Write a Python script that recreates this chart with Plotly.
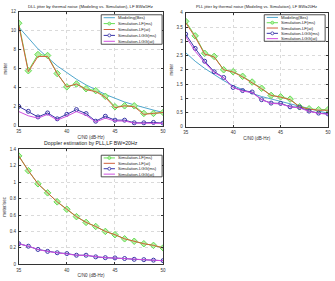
import plotly.graph_objects as go

W, H = 335, 281

cn0 = list(range(35, 51))

# Top-left: DLL jitter (meter)
dll_model = [10.4, 9.2, 8.1, 7.2, 6.3, 5.6, 4.9, 4.3, 3.8, 3.3, 2.9, 2.5, 2.2, 1.9, 1.65, 1.4]
dll_lf_ms = [10.8, 5.8, 7.5, 7.4, 5.5, 4.1, 4.4, 3.9, 3.7, 3.1, 2.0, 2.1, 2.1, 1.3, 1.3, 1.4]
dll_lf_st = [10.6, 5.7, 7.3, 7.3, 5.5, 4.1, 4.4, 3.8, 3.6, 3.0, 1.9, 2.1, 2.0, 1.2, 1.3, 1.4]
dll_lgg_ms = [2.04, 1.52, 0.93, 1.35, 0.73, 1.21, 1.7, 1.28, 0.48, 1.0, 0.59, 0.59, 0.31, 0.31, 0.35, 0.28]
dll_lgg_st = [1.5, 1.05, 0.8, 1.2, 0.6, 1.0, 1.5, 1.1, 0.4, 0.8, 0.5, 0.5, 0.28, 0.25, 0.3, 0.25]

# Top-right: PLL jitter (meter)
pll_model = [2.6, 2.3, 2.05, 1.82, 1.62, 1.44, 1.3, 1.17, 1.06, 0.97, 0.88, 0.8, 0.72, 0.64, 0.55, 0.47]
pll_lf_ms = [3.7, 3.19, 2.58, 2.47, 2.0, 1.93, 1.77, 1.57, 1.35, 1.1, 1.05, 0.97, 0.7, 0.63, 0.6, 0.6]
pll_lf_st = [3.65, 3.15, 2.55, 2.45, 2.0, 1.92, 1.75, 1.55, 1.33, 1.1, 1.04, 0.95, 0.7, 0.62, 0.58, 0.58]
pll_lgg_ms = [3.25, 2.75, 2.3, 1.93, 1.73, 1.38, 1.27, 1.22, 0.95, 0.83, 0.82, 0.7, 0.68, 0.55, 0.48, 0.45]
pll_lgg_st = [3.17, 2.65, 2.25, 1.9, 1.72, 1.38, 1.25, 1.2, 0.95, 0.82, 0.8, 0.7, 0.66, 0.54, 0.47, 0.44]

# Bottom: Doppler estimation (meter/sec)
dop_lf_ms = [1.32, 1.14, 0.98, 0.87, 0.76, 0.67, 0.58, 0.51, 0.46, 0.40, 0.36, 0.31, 0.28, 0.25, 0.23, 0.20]
dop_lf_st = [1.32, 1.14, 0.98, 0.87, 0.76, 0.67, 0.58, 0.51, 0.46, 0.40, 0.36, 0.31, 0.28, 0.25, 0.23, 0.20]
dop_lgg_ms = [0.25, 0.22, 0.18, 0.157, 0.14, 0.13, 0.11, 0.11, 0.09, 0.08, 0.077, 0.07, 0.06, 0.056, 0.05, 0.044]
dop_lgg_st = [0.25, 0.22, 0.18, 0.155, 0.14, 0.128, 0.11, 0.108, 0.09, 0.08, 0.075, 0.07, 0.06, 0.055, 0.05, 0.043]

names5 = ["Modeling(Bes)", "Simulation-LF(ms)", "Simulation-LF(at)", "Simulation-LGG(ms)", "Simulation-LGG(at)"]
names4 = names5[1:]

titles = ["DLL jitter by thermal noise (Modeling vs. Simulation), LF BW=5Hz",
          "PLL jitter by thermal noise (Modeling vs. Simulation), LF BW=20Hz",
          "Doppler estimation by PLL,LF BW=20Hz"]
xlabel = "C/N0 (dB-Hz)"
ylabels = ["meter", "meter", "meter/sec"]

C_MODEL = "#4fa6cc"
C_LFMS = "#66dd55"
C_LFST = "#d0603a"
C_LGMS = "#3a36a8"
C_LGST = "#d050e0"

FONT = "Liberation Sans, Arial, sans-serif"

def px(x):
    return x / W

def py(y):
    return 1 - y / H

fig = go.Figure()

styles = {
    "model": dict(mode="lines", line=dict(color=C_MODEL, width=1)),
    "lfms": dict(mode="lines+markers", line=dict(color=C_LFMS, width=1),
                 marker=dict(symbol="diamond", size=5, color="#b8f0a8", line=dict(color=C_LFMS, width=1))),
    "lfst": dict(mode="lines", line=dict(color=C_LFST, width=1)),
    "lgms": dict(mode="lines+markers", line=dict(color=C_LGMS, width=1),
                 marker=dict(symbol="circle-open", size=4, color=C_LGMS, line=dict(width=1))),
    "lgst": dict(mode="lines", line=dict(color=C_LGST, width=1)),
}

def add(series, key, name, ax):
    xa = "x" if ax == 1 else f"x{ax}"
    ya = "y" if ax == 1 else f"y{ax}"
    fig.add_trace(go.Scatter(x=cn0, y=series, name=name, xaxis=xa, yaxis=ya,
                             showlegend=False, **styles[key]))

add(dll_model, "model", names5[0], 1)
add(dll_lf_ms, "lfms", names5[1], 1)
add(dll_lf_st, "lfst", names5[2], 1)
add(dll_lgg_ms, "lgms", names5[3], 1)
add(dll_lgg_st, "lgst", names5[4], 1)

add(pll_model, "model", names5[0], 2)
add(pll_lf_ms, "lfms", names5[1], 2)
add(pll_lf_st, "lfst", names5[2], 2)
add(pll_lgg_ms, "lgms", names5[3], 2)
add(pll_lgg_st, "lgst", names5[4], 2)

add(dop_lf_ms, "lfms", names4[0], 3)
add(dop_lf_st, "lfst", names4[1], 3)
add(dop_lgg_ms, "lgms", names4[2], 3)
add(dop_lgg_st, "lgst", names4[3], 3)

boxes = {
    1: (16, 163, 10, 126),
    2: (186, 331, 11, 127),
    3: (16, 163, 150, 267),
}
yranges = {1: ([0, 12], [0, 2, 4, 6, 8, 10, 12], ["0", "2", "4", "6", "8", "10", "12"]),
           2: ([0, 4], [0, 0.5, 1, 1.5, 2, 2.5, 3, 3.5, 4], ["0", "0.5", "1", "1.5", "2", "2.5", "3", "3.5", "4"]),
           3: ([0, 1.4], [0, 0.2, 0.4, 0.6, 0.8, 1, 1.2, 1.4], ["0", "0.2", "0.4", "0.6", "0.8", "1", "1.2", "1.4"])}
xticks = [35, 40, 45, 50]

axfont = dict(family=FONT, size=4.5, color="#333")
for i, (x0, x1, y0, y1) in boxes.items():
    xk = "xaxis" if i == 1 else f"xaxis{i}"
    yk = "yaxis" if i == 1 else f"yaxis{i}"
    ya = "y" if i == 1 else f"y{i}"
    xa = "x" if i == 1 else f"x{i}"
    yr, yt, ytt = yranges[i]
    common = dict(ticks="inside", ticklen=2, tickwidth=0.6, tickcolor="#333",
                  showline=True, mirror="ticks", linecolor="#333", linewidth=0.8,
                  showgrid=True, gridcolor="#dadada", griddash="dot", gridwidth=0.7,
                  zeroline=False, tickfont=axfont, ticklabelstandoff=1)
    fig.layout[xk] = dict(domain=[px(x0), px(x1)], anchor=ya, range=[35, 50],
                          tickvals=xticks, ticktext=[str(t) for t in xticks],
                          title=dict(text=xlabel, font=dict(family=FONT, size=4.5, color="#333"), standoff=2),
                          **common)
    fig.layout[yk] = dict(domain=[py(y1), py(y0)], anchor=xa, range=yr,
                          tickvals=yt, ticktext=ytt,
                          title=dict(text=ylabels[i - 1], font=dict(family=FONT, size=4.5, color="#333"), standoff=3),
                          **common)

annotations = []
shapes = []

title_pos = [(89.5, 5, 4.3), (258, 5, 4.1), (89.5, 144, 5.2)]
for t, (cx, cy, fs) in zip(titles, title_pos):
    annotations.append(dict(text=t, x=px(cx), y=py(cy), xref="paper", yref="paper",
                            showarrow=False, xanchor="center", yanchor="middle",
                            font=dict(family=FONT, size=fs, color="#222")))

legend_specs = [
    (dict(x0=100, x1=162, y0=13, y1=43), ["model", "lfms", "lfst", "lgms", "lgst"], names5),
    (dict(x0=266, x1=328, y0=13, y1=40), ["model", "lfms", "lfst", "lgms", "lgst"], names5),
    (dict(x0=100, x1=162, y0=156, y1=178), ["lfms", "lfst", "lgms", "lgst"], names4),
]
colors = {"model": C_MODEL, "lfms": C_LFMS, "lfst": C_LFST, "lgms": C_LGMS, "lgst": C_LGST}
for box, keys, names in legend_specs:
    shapes.append(dict(type="rect", xref="paper", yref="paper",
                       x0=px(box["x0"]), x1=px(box["x1"]), y0=py(box["y1"]), y1=py(box["y0"]),
                       line=dict(color="#222", width=0.8), fillcolor="white", layer="above"))
    n = len(keys)
    step = (box["y1"] - box["y0"]) / n
    for j, (k, nm) in enumerate(zip(keys, names)):
        yy = box["y0"] + step * (j + 0.5)
        lx0, lx1 = box["x0"] + 2.5, box["x0"] + 14
        shapes.append(dict(type="line", xref="paper", yref="paper",
                           x0=px(lx0), x1=px(lx1), y0=py(yy), y1=py(yy),
                           line=dict(color=colors[k], width=1), layer="above"))
        mx = (lx0 + lx1) / 2
        if k == "lfms":
            shapes.append(dict(type="circle", xref="paper", yref="paper",
                               x0=px(mx - 1.5), x1=px(mx + 1.5), y0=py(yy + 1.5), y1=py(yy - 1.5),
                               line=dict(color=C_LFMS, width=0.8), fillcolor="#b8f0a8", layer="above"))
        elif k == "lgms":
            shapes.append(dict(type="circle", xref="paper", yref="paper",
                               x0=px(mx - 1.5), x1=px(mx + 1.5), y0=py(yy + 1.5), y1=py(yy - 1.5),
                               line=dict(color=C_LGMS, width=0.8), fillcolor="white", layer="above"))
        annotations.append(dict(text=nm, x=px(lx1 + 1.5), y=py(yy), xref="paper", yref="paper",
                                showarrow=False, xanchor="left", yanchor="middle",
                                font=dict(family=FONT, size=4.2, color="#222")))

fig.update_layout(width=W, height=H, margin=dict(l=0, r=0, t=0, b=0),
                  paper_bgcolor="white", plot_bgcolor="white",
                  showlegend=False, annotations=annotations, shapes=shapes,
                  font=dict(family=FONT))

fig.write_html("out.html")
